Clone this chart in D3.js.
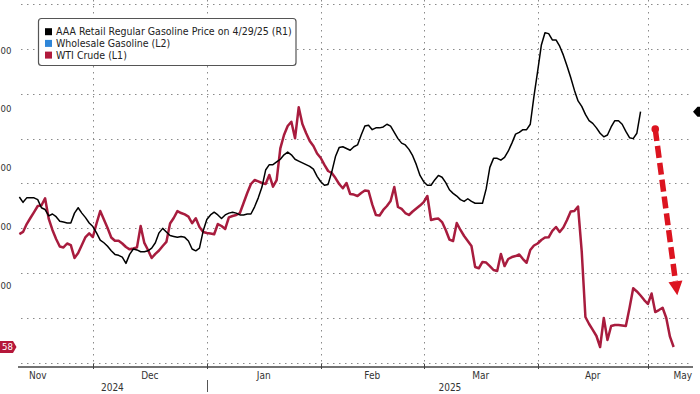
<!DOCTYPE html>
<html><head><meta charset="utf-8">
<script src="https://cdn.jsdelivr.net/npm/d3@7"></script>
<style>
html,body{margin:0;padding:0;background:#fff;overflow:hidden}
text{font-family:"DejaVu Sans Condensed","DejaVu Sans",sans-serif;font-stretch:condensed}
</style>
</head><body>
<svg id="c" width="700" height="394"></svg>
<script>
// ---------- DATA ----------
const seriesStart = "2024-11-11"; // first daily observation in view
const aaaRetail = [
3.085,3.079,3.084,3.084,3.084,3.082,3.073,3.071,3.064,3.066,
3.063,3.058,3.057,3.056,3.056,3.067,3.073,3.067,3.062,3.056,
3.052,3.045,3.037,3.034,3.030,3.025,3.021,3.020,3.018,3.011,
3.021,3.027,3.026,3.024,3.024,3.025,3.028,3.034,3.045,3.050,
3.046,3.042,3.041,3.040,3.041,3.040,3.036,3.027,3.025,3.028,
3.047,3.060,3.065,3.068,3.065,3.061,3.065,3.067,3.068,3.067,
3.065,3.065,3.066,3.066,3.074,3.084,3.096,3.115,3.121,3.121,
3.124,3.127,3.132,3.135,3.132,3.127,3.125,3.123,3.121,3.119,
3.116,3.108,3.102,3.098,3.099,3.113,3.130,3.140,3.141,3.139,
3.137,3.141,3.143,3.154,3.164,3.165,3.160,3.162,3.162,3.163,
3.166,3.164,3.157,3.150,3.145,3.143,3.138,3.131,3.121,3.109,
3.102,3.098,3.098,3.104,3.109,3.107,3.101,3.093,3.089,3.086,
3.082,3.080,3.083,3.080,3.078,3.078,3.078,3.094,3.118,3.128,
3.128,3.126,3.129,3.136,3.145,3.155,3.157,3.160,3.160,3.166,
3.197,3.225,3.254,3.268,3.267,3.260,3.260,3.253,3.243,3.231,
3.218,3.204,3.192,3.186,3.177,3.170,3.167,3.162,3.156,3.152,
3.154,3.163,3.170,3.170,3.166,3.158,3.151,3.150,3.156,3.180
];
const wtiCrude = [
68.36,68.55,69.27,69.82,70.36,70.91,70.95,71.61,69.73,68.73,
67.91,67.23,67.14,67.50,67.36,66.18,66.64,67.36,68.09,68.43,
68.09,69.32,70.45,69.68,68.91,68.05,67.75,67.75,67.50,67.18,
66.97,67.05,67.15,69.09,67.55,66.91,66.18,66.55,66.86,67.27,
67.64,69.32,69.82,70.45,70.27,70.14,69.95,69.34,69.79,69.00,
68.55,68.45,68.41,68.34,69.27,69.09,68.82,69.88,70.00,70.09,
70.27,71.18,72.09,72.91,73.27,73.14,73.00,72.91,73.73,72.66,
73.27,76.15,77.36,78.18,78.57,77.06,79.88,78.36,77.55,76.82,
76.36,75.68,75.27,74.64,74.09,73.91,73.45,72.91,72.52,73.00,
72.00,71.95,71.82,72.09,72.32,72.27,71.05,70.09,70.05,70.55,
70.91,71.36,72.64,70.82,70.64,70.27,70.09,70.41,70.68,70.95,
71.27,71.82,69.64,69.73,69.77,69.45,68.73,67.86,67.73,69.36,
68.73,68.18,67.73,67.27,65.36,65.25,65.82,65.77,65.45,65.09,
65.00,66.55,65.45,66.09,66.27,66.36,66.50,66.09,65.75,66.91,
67.32,67.50,67.82,68.05,68.06,68.64,69.00,68.55,68.95,69.64,
70.41,70.45,70.86,66.76,60.82,60.18,59.64,59.09,58.09,60.73,
58.73,60.00,60.09,60.09,60.05,60.00,61.64,63.43,63.14,62.77,
62.36,62.00,62.95,61.27,61.45,61.66,60.73,59.03,58.09
];
const legendLabels = ["AAA Retail Regular Gasoline Price on 4/29/25 (R1)", "Wholesale Gasoline (L2)", "WTI Crude (L1)"];
const legendColors = ["#000000", "#2f86d8", "#b01a3c"];
const monthStarts = ["2024-11-01","2024-12-01","2025-01-01","2025-02-01","2025-03-01","2025-04-01","2025-05-01","2025-06-01"];
const monthLabels = ["Nov","Dec","Jan","Feb","Mar","Apr","May"];
const yearStarts = ["2024-01-01","2025-01-01","2026-01-01"];
const yearLabels = ["2024","2025"];
const r1Ticks = [2.90,2.95,3.00,3.05,3.10,3.15,3.20,3.25,3.30];
const l2Ticks = [2.5,2.4,2.3,2.2,2.1];
const l2TickLabels = ["00","00","00","00","00"];
const wtiLastLabel = "58";
const arrowFrom = {date:"2025-05-03", wti:77.9};
const arrowTo = {date:"2025-05-09", wti:62.8};

// ---------- LAYOUT ----------
const W = 700, H = 394;
const plotL = 18, plotR = 693, axisY = 367;
const parse = d3.timeParse("%Y-%m-%d");
const svg = d3.select("#c");

const x = d3.scaleTime().domain([parse("2024-11-01"), parse("2025-05-01")]).range([-17.4, 647.9]);
const yR1 = d3.scaleLinear().domain([2.90, 3.30]).range([363, 4]);
const yL1 = d3.scaleLinear().domain([54, 84]).range([392, 62]);
const yL2 = d3.scaleLinear().domain([2.1, 2.5]).range([285, 50]);

const start = parse(seriesStart);
const aaa = aaaRetail.map((v,i)=>({date:d3.timeDay.offset(start,i), v}));
const wti = wtiCrude.map((v,i)=>({date:d3.timeDay.offset(start,i), v}));

svg.append("defs").append("clipPath").attr("id","plotclip")
  .append("rect").attr("x",plotL).attr("y",0).attr("width",plotR-plotL).attr("height",axisY);

// gridlines
const grid = svg.append("g").attr("stroke","#8a8a8a").attr("stroke-width",1).attr("stroke-dasharray","1.5,4.5");
grid.selectAll("line.h").data(r1Ticks).join("line").attr("class","h")
  .attr("x1",plotL+3).attr("x2",plotR).attr("y1",d=>Math.round(yR1(d))+0.5).attr("y2",d=>Math.round(yR1(d))+0.5);
const months = monthStarts.map(parse);
grid.selectAll("line.v").data(months.filter(m=>x(m)>plotL && x(m)<plotR)).join("line").attr("class","v")
  .attr("x1",d=>Math.round(x(d))+0.5).attr("x2",d=>Math.round(x(d))+0.5).attr("y1",0).attr("y2",axisY);

// left L2 labels (partially visible at the left edge)
svg.append("g").selectAll("text").data(l2Ticks).join("text")
  .attr("x",0.5).attr("y",d=>yL2(d)+3.5).attr("text-anchor","start")
  .attr("font-size",9.5).attr("fill","#333").text((d,i)=>l2TickLabels[i]);

// series
const plot = svg.append("g").attr("clip-path","url(#plotclip)");
plot.append("path").datum(wti).attr("fill","none").attr("stroke","#a81c3e").attr("stroke-width",2.5)
  .attr("stroke-linejoin","round")
  .attr("d", d3.line().x(d=>x(d.date)).y(d=>yL1(d.v)));
plot.append("path").datum(aaa).attr("fill","none").attr("stroke","#000").attr("stroke-width",1.5)
  .attr("stroke-linejoin","round")
  .attr("d", d3.line().x(d=>x(d.date)).y(d=>yR1(d.v)));

// x axis
svg.append("line").attr("x1",plotL).attr("x2",plotR).attr("y1",axisY).attr("y2",axisY)
  .attr("stroke","#444").attr("stroke-width",1.3);
svg.append("g").selectAll("line").data(months.filter(m=>x(m)>plotL && x(m)<plotR)).join("line")
  .attr("x1",d=>Math.round(x(d))+0.5).attr("x2",d=>Math.round(x(d))+0.5)
  .attr("y1",axisY-3).attr("y2",axisY+2).attr("stroke","#444").attr("stroke-width",1);
const ml = svg.append("g");
monthLabels.forEach((lab,i)=>{
  const t = ml.append("text").attr("font-size",10).attr("fill","#333").attr("text-anchor","middle")
    .attr("y",378.5).text(lab);
  const hw = t.node().getComputedTextLength()/2;
  let cx = (x(months[i]) + x(months[i+1]))/2;
  cx = Math.max(plotL+hw+2, Math.min(plotR-hw-1, cx));
  t.attr("x",cx);
});
const years = yearStarts.map(parse);
yearLabels.forEach((lab,i)=>{
  const a = Math.max(plotL, x(years[i])), b = Math.min(plotR, x(years[i+1]));
  svg.append("text").attr("font-size",10).attr("fill","#333").attr("text-anchor","middle")
    .attr("x",(a+b)/2).attr("y",390.5).text(lab);
});
// year separator
svg.append("line").attr("x1",Math.round(x(years[1]))+0.5).attr("x2",Math.round(x(years[1]))+0.5)
  .attr("y1",380).attr("y2",392).attr("stroke","#555").attr("stroke-width",1);

// WTI last value tag (left)
const lastW = wti[wti.length-1].v;
const ty = yL1(lastW);
svg.append("path").attr("d",`M0,${ty-6}H13L16.5,${ty}L13,${ty+6}H0Z`).attr("fill","#b5173a");
svg.append("text").attr("x",7.5).attr("y",ty+3.4).attr("text-anchor","middle").attr("font-size",9.5)
  .attr("fill","#fff").text(wtiLastLabel);

// AAA last value tag tip (right)
const lastA = yR1(aaa[aaa.length-1].v);
svg.append("path").attr("d",`M693,${lastA}L697.5,${lastA-5}H700V${lastA+5}H697.5Z`).attr("fill","#000");

// Arrow annotation
const ax1 = x(parse(arrowFrom.date)), ay1 = yL1(arrowFrom.wti);
const ax2 = x(parse(arrowTo.date)), ay2 = yL1(arrowTo.wti);
const arrowColor = "#dc1420";
const headLen = 14, headHalf = 7;
const ang = Math.atan2(ay2-ay1, ax2-ax1);
const bx = ax2 - headLen*Math.cos(ang), by = ay2 - headLen*Math.sin(ang);
svg.append("line").attr("x1",ax1).attr("y1",ay1).attr("x2",bx).attr("y2",by)
  .attr("stroke",arrowColor).attr("stroke-width",5.5).attr("stroke-dasharray","12,5");
svg.append("circle").attr("cx",ax1).attr("cy",ay1).attr("r",3.8).attr("fill",arrowColor);
const px = -Math.sin(ang), py = Math.cos(ang);
svg.append("path").attr("fill",arrowColor)
  .attr("d",`M${bx+px*headHalf},${by+py*headHalf}L${ax2},${ay2}L${bx-px*headHalf},${by-py*headHalf}Z`);

// legend
const lg = svg.append("g");
lg.append("rect").attr("x",38.5).attr("y",18.5).attr("width",257.5).attr("height",47).attr("rx",3)
  .attr("fill","#fff").attr("stroke","#555").attr("stroke-width",1.2);
legendLabels.forEach((lab,i)=>{
  const cy = 31.7 + i*11.7;
  lg.append("rect").attr("x",45).attr("y",cy-3.5).attr("width",7).attr("height",7).attr("fill",legendColors[i]);
  lg.append("text").attr("x",56).attr("y",cy+3.6).attr("font-size",10.5).attr("fill","#222").text(lab);
});
</script>
</body></html>
